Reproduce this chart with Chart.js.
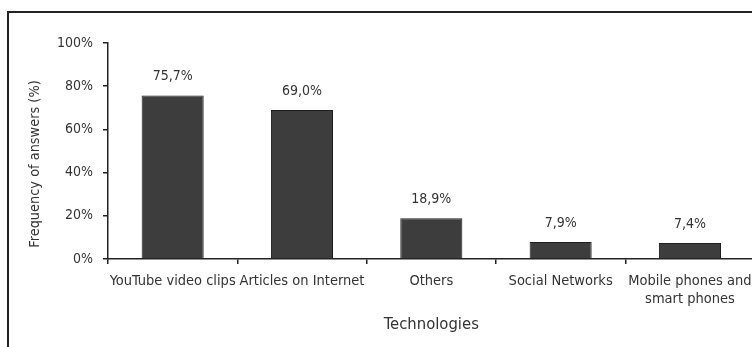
<!DOCTYPE html>
<html>
<head>
<meta charset="utf-8">
<script src="https://cdn.jsdelivr.net/npm/chart.js@4"></script>
<style>
  html, body { margin: 0; padding: 0; background: #fff; overflow: hidden; }
  #wrap { position: relative; width: 752px; height: 347px; overflow: hidden; }
  #frame { position: absolute; left: 7px; top: 11px; width: 800px; height: 400px;
           border-top: 2px solid #222; border-left: 2px solid #222; }
  canvas { position: absolute; left: 0; top: 0; }
</style>
</head>
<body>
<div id="wrap">
  <div id="frame"></div>
  <canvas id="chart" width="760" height="347"></canvas>
</div>
<script>
const categories = ['YouTube video clips', 'Articles on Internet', 'Others', 'Social Networks', ['Mobile phones and', 'smart phones']];
const values = [75.7, 69.0, 18.9, 7.9, 7.4];
const yTicks = [0, 20, 40, 60, 80, 100];
const yTitle = 'Frequency of answers (%)';

const FONT = "'Liberation Sans Narrow', 'Arial Narrow', 'DejaVu Sans Condensed', sans-serif";
const TEXT = '#333';

// value labels above the bars (comma decimals) and the y title, which sits a bit low in the original
const barLabels = {
  id: 'barLabels',
  afterDatasetsDraw(chart) {
    const ctx = chart.ctx;
    const meta = chart.getDatasetMeta(0);
    ctx.save();
    ctx.font = '14px ' + FONT;
    ctx.fillStyle = TEXT;
    ctx.textAlign = 'center';
    ctx.textBaseline = 'bottom';
    meta.data.forEach((bar, i) => {
      ctx.fillText(values[i].toFixed(1).replace('.', ',') + '%', bar.x, bar.y - 12);
    });

    const area = chart.chartArea;
    ctx.translate(35, (area.top + area.bottom) / 2 + 13);
    ctx.rotate(-Math.PI / 2);
    ctx.textBaseline = 'middle';
    ctx.font = '14.4px ' + FONT;
    ctx.fillText(yTitle, 0, 0);
    ctx.restore();
  }
};

new Chart(document.getElementById('chart').getContext('2d'), {
  type: 'bar',
  data: {
    labels: categories,
    datasets: [{
      data: values,
      backgroundColor: '#3d3d3d',
      borderColor: '#1f1f1f',
      borderWidth: 1,
      categoryPercentage: 1,
      barPercentage: 0.48,
    }]
  },
  options: {
    responsive: false,
    animation: false,
    layout: { padding: { top: 43, left: 0, right: 4 } },
    plugins: {
      legend: { display: false },
      tooltip: { enabled: false },
    },
    scales: {
      x: {
        afterFit(scale) { scale.height = 88; },
        grid: { offset: true, drawOnChartArea: false, drawTicks: true, tickLength: 5, color: '#222', lineWidth: 1.5 },
        border: { color: '#222', width: 1.5 },
        ticks: { color: TEXT, font: { family: FONT, size: 14.5, lineHeight: 1.25 }, padding: 8, maxRotation: 0, autoSkip: false },
        title: { display: true, text: 'Technologies', color: TEXT, font: { family: FONT, size: 16.5 }, padding: { top: 0, bottom: 12 } },
      },
      y: {
        min: 0,
        max: 100,
        afterFit(scale) { scale.width = 108; },
        afterBuildTicks(scale) { scale.ticks = yTicks.map(v => ({ value: v })); },
        grid: { drawOnChartArea: false, drawTicks: true, tickLength: 5, color: '#222', lineWidth: 1.5 },
        border: { color: '#222', width: 1.5 },
        ticks: { color: TEXT, font: { family: FONT, size: 14 }, padding: 10, callback: v => v + '%' },
        title: { display: false },
      }
    }
  },
  plugins: [barLabels]
});
</script>
</body>
</html>
